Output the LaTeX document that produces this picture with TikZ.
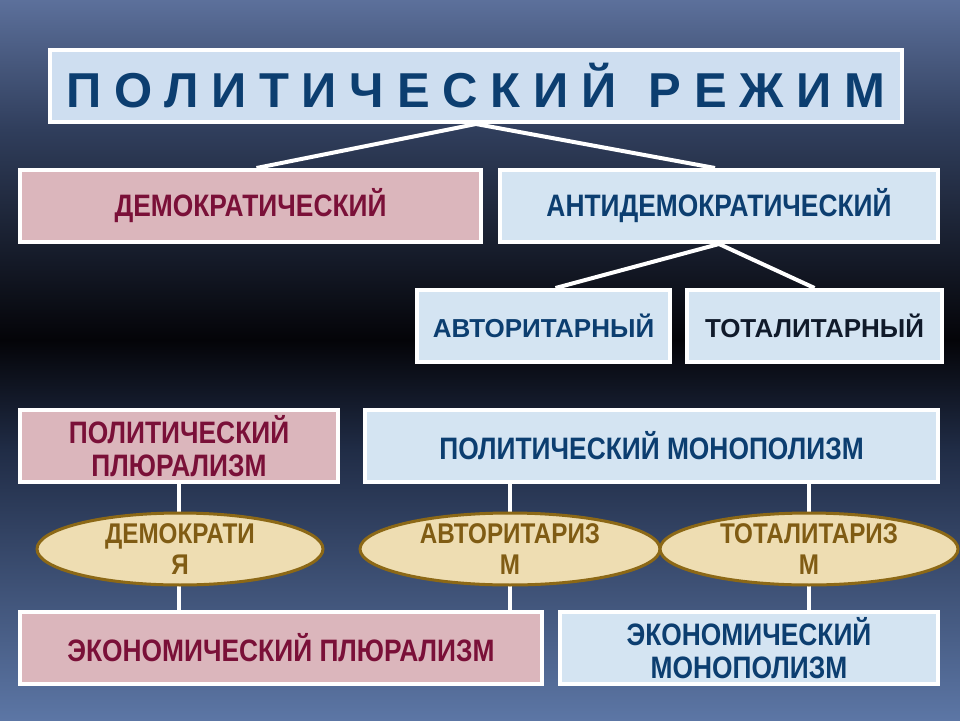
\documentclass[tikz,border=0pt]{standalone}
\usepackage{fontspec}
\setmainfont{Liberation Sans}
\newfontfamily\wide{Liberation Sans}[BoldFont={* Bold}]
\newfontfamily\narrow{Liberation Sans}[FakeStretch=0.85]
\usetikzlibrary{shapes.geometric}
\definecolor{bgtop}{RGB}{92,112,155}
\definecolor{bgup}{RGB}{48,62,92}
\definecolor{bgmid}{RGB}{4,4,8}
\definecolor{bglow}{RGB}{32,44,70}
\definecolor{bgbot}{RGB}{92,118,165}
\definecolor{pinkfill}{RGB}{219,182,188}
\definecolor{bluefill}{RGB}{212,228,242}
\definecolor{titlefill}{RGB}{206,222,240}
\definecolor{maroon}{RGB}{122,16,56}
\definecolor{navy}{RGB}{12,62,112}
\definecolor{darknavy}{RGB}{16,26,42}
\definecolor{papyrus}{RGB}{238,221,178}
\definecolor{olive}{RGB}{140,104,22}
\definecolor{olivetext}{RGB}{128,92,20}
\pgfdeclareverticalshading{bgshade}{100bp}{color(0bp)=(bgbot); color(25bp)=(bgbot); color(43.75bp)=(bglow); color(51.4bp)=(bgmid); color(66bp)=(bgup); color(75bp)=(bgtop); color(100bp)=(bgtop)}
\pgfdeclarelayer{bglayer}
\pgfdeclarelayer{linelayer}
\pgfsetlayers{bglayer,linelayer,main}
\tikzset{
  boxbase/.style={draw=white, line width=4pt, rectangle, minimum height=72pt, inner sep=0pt, align=center},
  pinkbox/.style={boxbase, fill=pinkfill, text=maroon, font=\narrow\bfseries\fontsize{31}{33}\selectfont},
  bluebox/.style={boxbase, fill=bluefill, text=navy, font=\narrow\bfseries\fontsize{31}{33}\selectfont},
  widebox/.style={boxbase, fill=bluefill, font=\wide\bfseries\fontsize{26}{26}\selectfont},
  oval/.style={ellipse, draw=olive, line width=3pt, fill=papyrus, text=olivetext, inner sep=0pt, minimum height=62pt, align=center, font=\narrow\bfseries\fontsize{28.5}{31}\selectfont},
  link/.style={draw=white, line width=4pt}
}
\begin{document}
\begin{tikzpicture}[x=1pt,y=-1pt]
\begin{pgfonlayer}{bglayer}
\shade[shading=bgshade] (0,0) rectangle (960,720);
\end{pgfonlayer}
\useasboundingbox (0,0) rectangle (960,720);

\node[boxbase, fill=titlefill, text=navy, minimum width=852pt, font=\wide\bfseries\fontsize{49}{49}\selectfont\addfontfeature{LetterSpace=26}] (title) at (476,86) {ПОЛИТИЧЕСКИЙ\hspace{6pt} РЕЖИМ};

\node[pinkbox, minimum width=461pt] (dem) at (250.5,206) {ДЕМОКРАТИЧЕСКИЙ};
\node[bluebox, minimum width=438pt] (anti) at (719,206) {АНТИДЕМОКРАТИЧЕСКИЙ};

\node[widebox, text=navy, minimum width=253pt] (avt) at (543.5,326) {АВТОРИТАРНЫЙ};
\node[widebox, text=darknavy, minimum width=255pt] (tot) at (814.5,326) {ТОТАЛИТАРНЫЙ};

\node[pinkbox, minimum width=318pt] (pp) at (179,446) {ПОЛИТИЧЕСКИЙ\\ПЛЮРАЛИЗМ};
\node[bluebox, minimum width=573pt] (pm) at (651.5,446) {ПОЛИТИЧЕСКИЙ МОНОПОЛИЗМ};

\node[oval, minimum width=286pt] (d) at (180,549) {ДЕМОКРАТИ\\Я};
\node[oval, minimum width=300pt] (a) at (510,549) {АВТОРИТАРИЗ\\М};
\node[oval, minimum width=298pt] (t) at (809,549) {ТОТАЛИТАРИЗ\\М};

\node[pinkbox, minimum width=522pt] (ep) at (281,648) {ЭКОНОМИЧЕСКИЙ ПЛЮРАЛИЗМ};
\node[bluebox, minimum width=378pt] (em) at (749,648) {ЭКОНОМИЧЕСКИЙ\\МОНОПОЛИЗМ};

\begin{pgfonlayer}{linelayer}
\draw[link] (title.south) -- ([xshift=6pt]dem.north);
\draw[link] (title.south) -- ([xshift=-4pt]anti.north);
\draw[link] (anti.south) -- ([xshift=12pt]avt.north);
\draw[link] (anti.south) -- (tot.north);
\draw[link] (pp.south) -- (pp.south |- ep.north);
\draw[link] (a.center |- pm.south) -- (a.center |- ep.north);
\draw[link] (t.center |- pm.south) -- (t.center |- em.north);
\end{pgfonlayer}
\end{tikzpicture}
\end{document}
